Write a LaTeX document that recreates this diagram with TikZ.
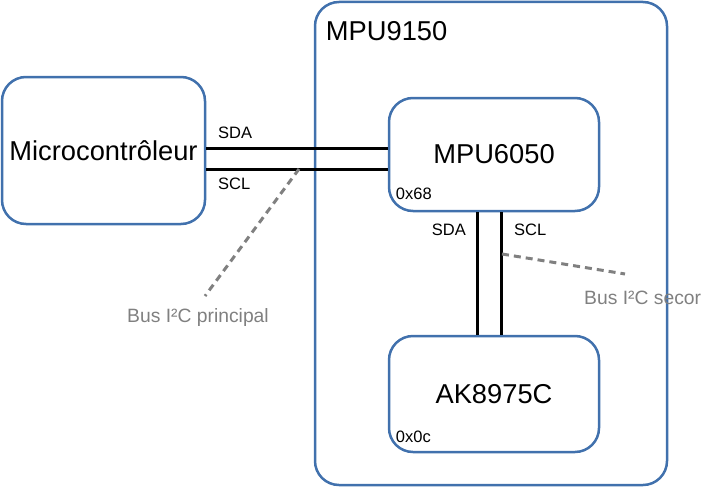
\documentclass[tikz,border=0pt]{standalone}
\usepackage{fontspec}
\setmainfont{Liberation Sans}
\usetikzlibrary{positioning,calc}
\definecolor{boxblue}{RGB}{65,113,173}
\definecolor{busgray}{RGB}{128,128,128}
\newcommand{\bigtxt}{\fontsize{27.3}{32}\selectfont}
\newcommand{\sigtxt}{\fontsize{16.5}{20}\selectfont}
\newcommand{\bustxt}{\fontsize{19.3}{23}\selectfont}

\begin{document}
\begin{tikzpicture}[x=1pt, y=-1pt,
      block/.style={draw=boxblue, line width=2.5pt, rounded corners=24pt,
        inner sep=0pt, font=\bigtxt},
      wire/.style={line width=3pt, black},
      note/.style={line width=3pt, busgray, dash pattern=on 7pt off 5pt},
      sig/.style={font=\sigtxt, inner sep=0pt},
      bus/.style={font=\bustxt, text=busgray, inner sep=0pt}
  ]
    \useasboundingbox (0,0) rectangle (703,487);
    % blocs
    \node[block, minimum width=352pt, minimum height=483pt] (mpu9150) at (491,243.5) {};
    \node[block, minimum width=203pt, minimum height=147pt] (mcu) at (103.5,150.5) {Microcontrôleur};
    \node[block, minimum width=210pt, minimum height=113pt] (mpu6050) at (494,154.5) {MPU6050};
    \node[block, minimum width=210pt, minimum height=116pt] (ak) at (494,394) {AK8975C};
    \node[font=\bigtxt, inner sep=0pt, anchor=west] (t9150) at ($(mpu9150.north west)+(12,30)$) {MPU9150};
    \node[sig, anchor=south west] (a6050) at ($(mpu6050.south west)+(8,-12)$) {0x68};
    \node[sig, anchor=south west] (aak) at ($(ak.south west)+(8,-10)$) {0x0c};
    % bus principal
    \coordinate (sdaL) at (mcu.east |- 0,148);
    \coordinate (sdaR) at (mpu6050.west |- 0,148);
    \coordinate (sclL) at (mcu.east |- 0,169);
    \coordinate (sclR) at (mpu6050.west |- 0,169);
    \draw[wire] (sdaL) -- (sdaR);
    \draw[wire] (sclL) -- (sclR);
    \node[sig, anchor=west] (lsda) at (218,133) {SDA};
    \node[sig, anchor=west] (lscl) at (218,184) {SCL};
    % bus secondaire
    \coordinate (sdaT) at (477,0 |- mpu6050.south);
    \coordinate (sdaB) at (477,0 |- ak.north);
    \coordinate (sclT) at (501,0 |- mpu6050.south);
    \coordinate (sclB) at (501,0 |- ak.north);
    \draw[wire] (sdaT) -- (sdaB);
    \draw[wire] (sclT) -- (sclB);
    \node[sig, anchor=east] (vsda) at (466,230) {SDA};
    \node[sig, anchor=west] (vscl) at (514,230) {SCL};
    % annotations
    \coordinate (p1) at (299,169);
    \coordinate (p2) at (502,254);
    \node[bus] (bus1) at (198,318) {Bus I²C principal};
    \node[bus, anchor=west] (bus2) at (584,298) {Bus I²C secor};
    \draw[note] (p1) -- (205,296);
    \draw[note] (p2) -- (625,274);
  \end{tikzpicture}
\end{document}
